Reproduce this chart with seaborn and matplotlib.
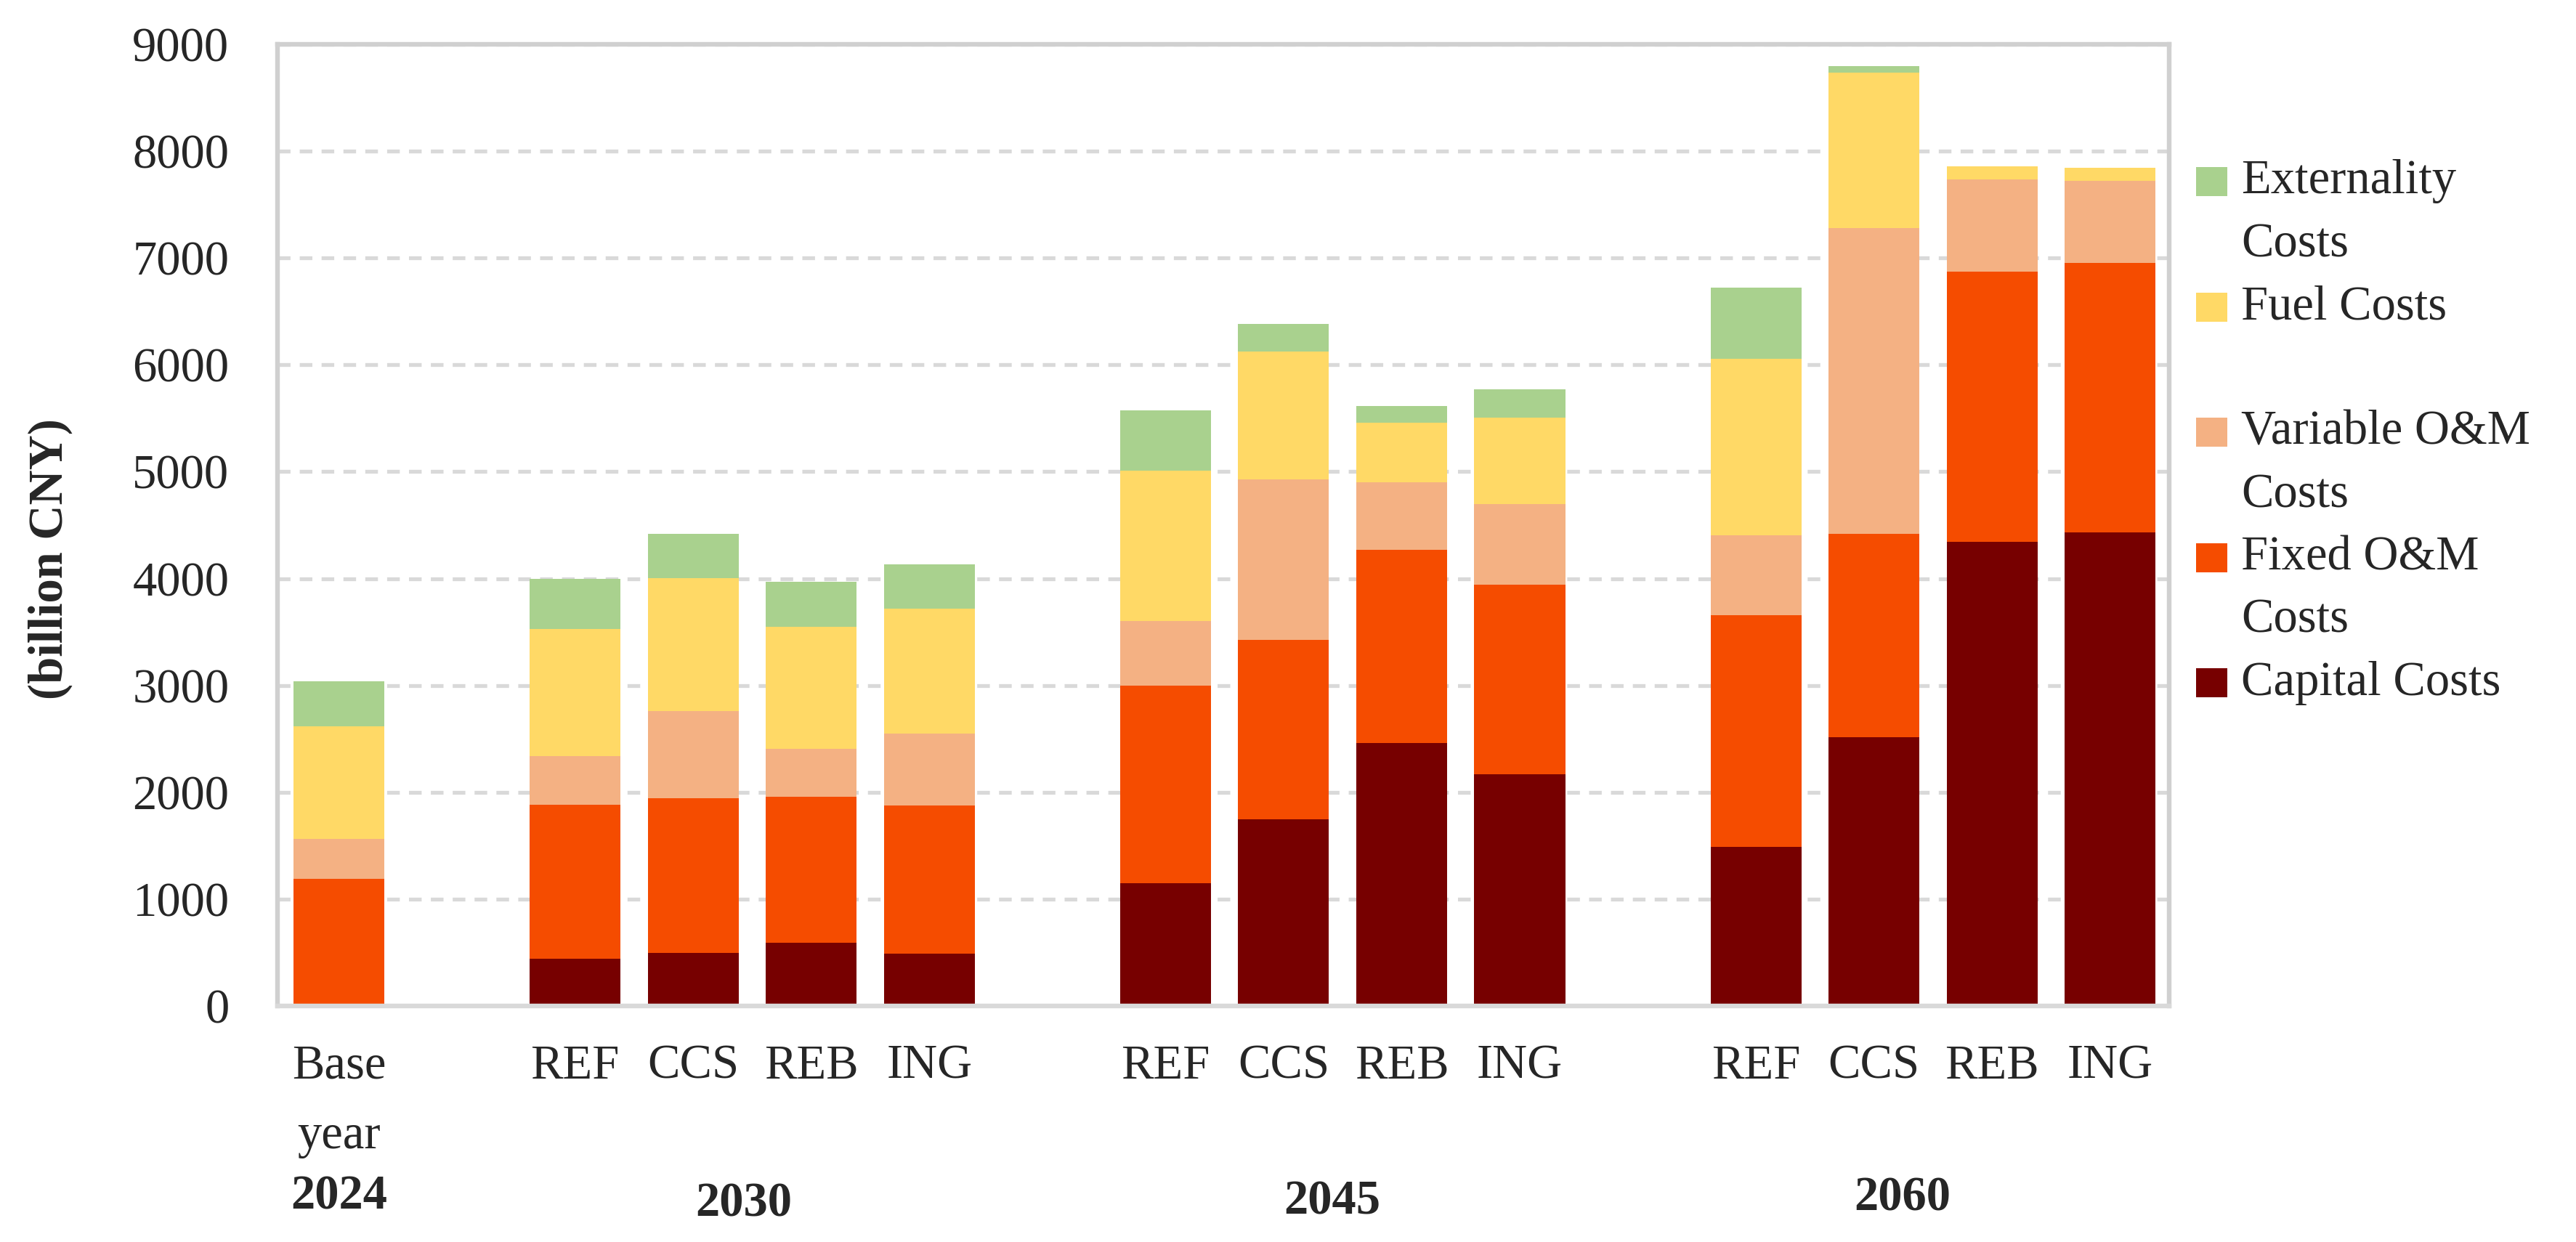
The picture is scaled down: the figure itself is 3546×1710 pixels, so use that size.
import numpy as np
import pandas as pd
import matplotlib
matplotlib.use("Agg")
import matplotlib.pyplot as plt
import matplotlib.transforms as mtransforms
from matplotlib.patches import Rectangle
import seaborn as sns

# ---------------- data ----------------
years = ["2024", "2030", "2045", "2060"]
scenarios = [["Base\nyear"], ["REF", "CCS", "REB", "ING"],
             ["REF", "CCS", "REB", "ING"], ["REF", "CCS", "REB", "ING"]]

series_names = ["Capital Costs", "Fixed O&M Costs", "Variable O&M Costs",
                "Fuel Costs", "Externality Costs"]
capital = [0, 440, 495, 589, 487, 1152, 1746, 2460, 2168, 1491, 2518, 4343, 4432]
fixed_om = [1192, 1445, 1452, 1370, 1390, 1844, 1678, 1808, 1777, 2166, 1901, 2532, 2520]
variable_om = [372, 450, 810, 446, 669, 605, 1506, 630, 750, 750, 2863, 862, 768]
fuel = [1056, 1194, 1249, 1143, 1174, 1412, 1193, 558, 813, 1653, 1452, 124, 123]
externality = [420, 469, 415, 419, 415, 563, 261, 156, 266, 661, 59, 0, 0]

colors = ["#770000", "#F54C00", "#F4B183", "#FFD966", "#A9D18E"]
legend_lines = [("Externality", 4), ("Costs", None), ("Fuel Costs", 3),
                ("Variable O&M", 2), ("Costs", None), ("Fixed O&M", 1),
                ("Costs", None), ("Capital Costs", 0)]

# ---------------- layout helpers ----------------
positions = []
tick_labels = []
slot = 0
for gi, scen in enumerate(scenarios):
    for s in scen:
        positions.append(slot)
        tick_labels.append(s)
        slot += 1
    slot += 1  # empty slot between groups

values = np.array([capital, fixed_om, variable_om, fuel, externality], dtype=float)
cum = np.cumsum(values, axis=0)

rows = []
for li, name in enumerate(series_names):
    for pi, p in enumerate(positions):
        rows.append({"pos": p, "series": name, "top": cum[li, pi]})
df = pd.DataFrame(rows)

# ---------------- figure ----------------
sns.set_style("white")
plt.rcParams["font.family"] = ["Liberation Serif", "DejaVu Serif"]
FS = 24

fig = plt.figure(figsize=(17.73, 8.55), dpi=200)
W, H = 3546, 1710
ax = fig.add_axes([382 / W, (H - 1385) / H, (2986 - 382) / W, (1385 - 61) / H])

for li in range(len(series_names) - 1, -1, -1):
    sub = df[df["series"] == series_names[li]]
    sns.barplot(data=sub, x="pos", y="top", native_scale=True, color=colors[li],
                width=0.77, errorbar=None, linewidth=0, saturation=1, ax=ax)

ax.set_xlim(-0.52, 15.5)
ax.set_ylim(0, 9000)
ax.set_yticks(np.arange(0, 9001, 1000))
ax.set_yticklabels([str(v) for v in range(0, 9001, 1000)], fontsize=FS)
ax.set_xticks(positions)
ax.set_xticklabels(tick_labels, fontsize=FS, linespacing=1.75)
ax.tick_params(axis="both", length=0)
ax.tick_params(axis="y", pad=24)
ax.tick_params(axis="x", pad=19)
ax.set_xlabel("")
ax.set_ylabel("")

ax.set_axisbelow(True)
ax.yaxis.grid(True, color="#d9d9d9", linewidth=1.9, linestyle=(0, (3.3, 2.4)))
ax.xaxis.grid(False)
for side, sp in ax.spines.items():
    sp.set_visible(True)
    sp.set_color("#d0d0d0")
    sp.set_linewidth(2.3)
ax.spines["bottom"].set_color("#d9d9d9")

# y label
fig.text(69 / W, 1 - 770 / H, "(billion CNY)", rotation=90, ha="center", va="center",
         fontsize=FS, fontweight="bold")

# group (year) labels
trans = mtransforms.blended_transform_factory(ax.transData, fig.transFigure)
year_x = [0.0, 3.43, 8.41, 13.24]
year_y = [1648, 1658, 1655, 1650]
for yx, yy, yl in zip(year_x, year_y, years):
    ax.text(yx, 1 - yy / H, yl, transform=trans, ha="center", va="center",
            fontsize=FS, fontweight="bold")

# legend (manual)
line_y = [250, 337, 423, 595, 682, 768, 854, 940]
for (txt, ci), yy in zip(legend_lines, line_y):
    if ci is not None:
        fig.patches.append(Rectangle((3023 / W, 1 - (yy + 20) / H), 43 / W, 40 / H,
                                     transform=fig.transFigure, facecolor=colors[ci],
                                     edgecolor="none"))
    fig.text(3085 / W, 1 - yy / H, txt, ha="left", va="center", fontsize=FS)

fig.savefig("out.png", dpi=200)
